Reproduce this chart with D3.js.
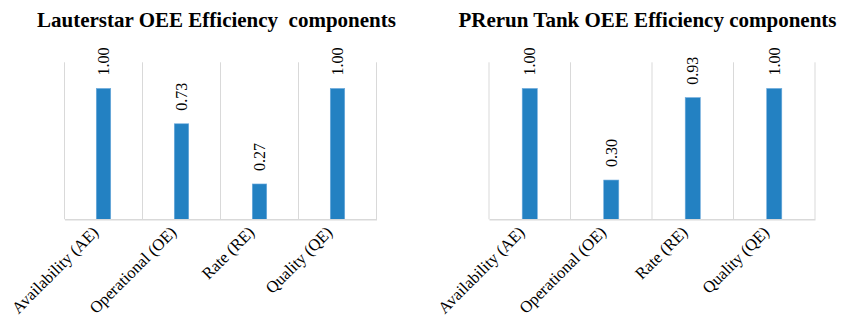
<!DOCTYPE html>
<html>
<head>
<meta charset="utf-8">
<script src="https://cdn.jsdelivr.net/npm/d3@7"></script>
<style>
  html, body { margin: 0; padding: 0; background: #fff; }
  svg { display: block; }
  text { font-family: "Liberation Serif", "Times New Roman", serif; fill: #000; }
</style>
</head>
<body>
<script>
// OEE efficiency components per unit
const categories = ["Availability (AE)", "Operational (OE)", "Rate (RE)", "Quality (QE)"];
const lauterstarValues = [1.00, 0.73, 0.27, 1.00];
const prerunValues = [1.00, 0.30, 0.93, 1.00];
const titles = ["Lauterstar OEE Efficiency  components", "PRerun Tank OEE Efficiency components"];
const yMax = 1.2;

const W = 845, H = 321;
const svg = d3.select("body").append("svg").attr("width", W).attr("height", H);

const plotTop = 62.3, plotBottom = 219.3;
const barColor = "#2381c2";
const gridColor = "#d9d9d9";

function drawChart(title, values, x0, x1, titleCenter) {
  const g = svg.append("g");
  const x = d3.scaleBand().domain(categories).range([x0, x1]).paddingInner(0).paddingOuter(0);
  const y = d3.scaleLinear().domain([0, yMax]).range([plotBottom, plotTop]);

  // vertical gridlines at category boundaries
  const bounds = categories.map(c => x(c)).concat([x1]);
  g.selectAll("line.grid").data(bounds).join("line")
    .attr("class", "grid")
    .attr("x1", d => d).attr("x2", d => d)
    .attr("y1", plotTop).attr("y2", plotBottom)
    .attr("stroke", gridColor).attr("stroke-width", 1);

  // bars
  const bw = x.bandwidth() * 0.185;
  g.selectAll("rect.bar").data(values).join("rect")
    .attr("class", "bar")
    .attr("x", (d, i) => x(categories[i]) + x.bandwidth() / 2 - bw / 2)
    .attr("y", d => y(d))
    .attr("width", bw)
    .attr("height", d => y(0) - y(d))
    .attr("fill", barColor)
    .attr("stroke", "#6aa9dc").attr("stroke-width", 0.6);

  // value labels, rotated
  g.selectAll("text.val").data(values).join("text")
    .attr("class", "val")
    .attr("transform", (d, i) => `translate(${x(categories[i]) + x.bandwidth() / 2},${y(d) - 13}) rotate(-90)`)
    .attr("dy", "0.35em")
    .attr("text-anchor", "start")
    .attr("font-size", 16)
    .text(d => d.toFixed(2));

  // category axis
  const axis = d3.axisBottom(x).tickSize(0).tickPadding(0);
  const ax = g.append("g").attr("transform", `translate(0,${plotBottom})`).call(axis);
  ax.attr("font-family", null).attr("font-size", null);
  ax.select(".domain").attr("stroke", gridColor).attr("stroke-width", 1.5);
  ax.selectAll(".tick text")
    .attr("font-size", 16.5)
    .attr("fill", "#000")
    .attr("text-anchor", "end")
    .attr("dy", 0)
    .attr("y", 0)
    .attr("transform", "translate(-4,14) rotate(-45)");

  // title
  svg.append("text")
    .attr("x", titleCenter).attr("y", 27)
    .attr("text-anchor", "middle")
    .attr("font-size", 21)
    .attr("font-weight", "bold")
    .style("white-space", "pre")
    .text(title);
}

drawChart(titles[0], lauterstarValues, 64.5, 376.5, 216.5);
drawChart(titles[1], prerunValues, 489, 815, 647.5);
</script>
</body>
</html>
